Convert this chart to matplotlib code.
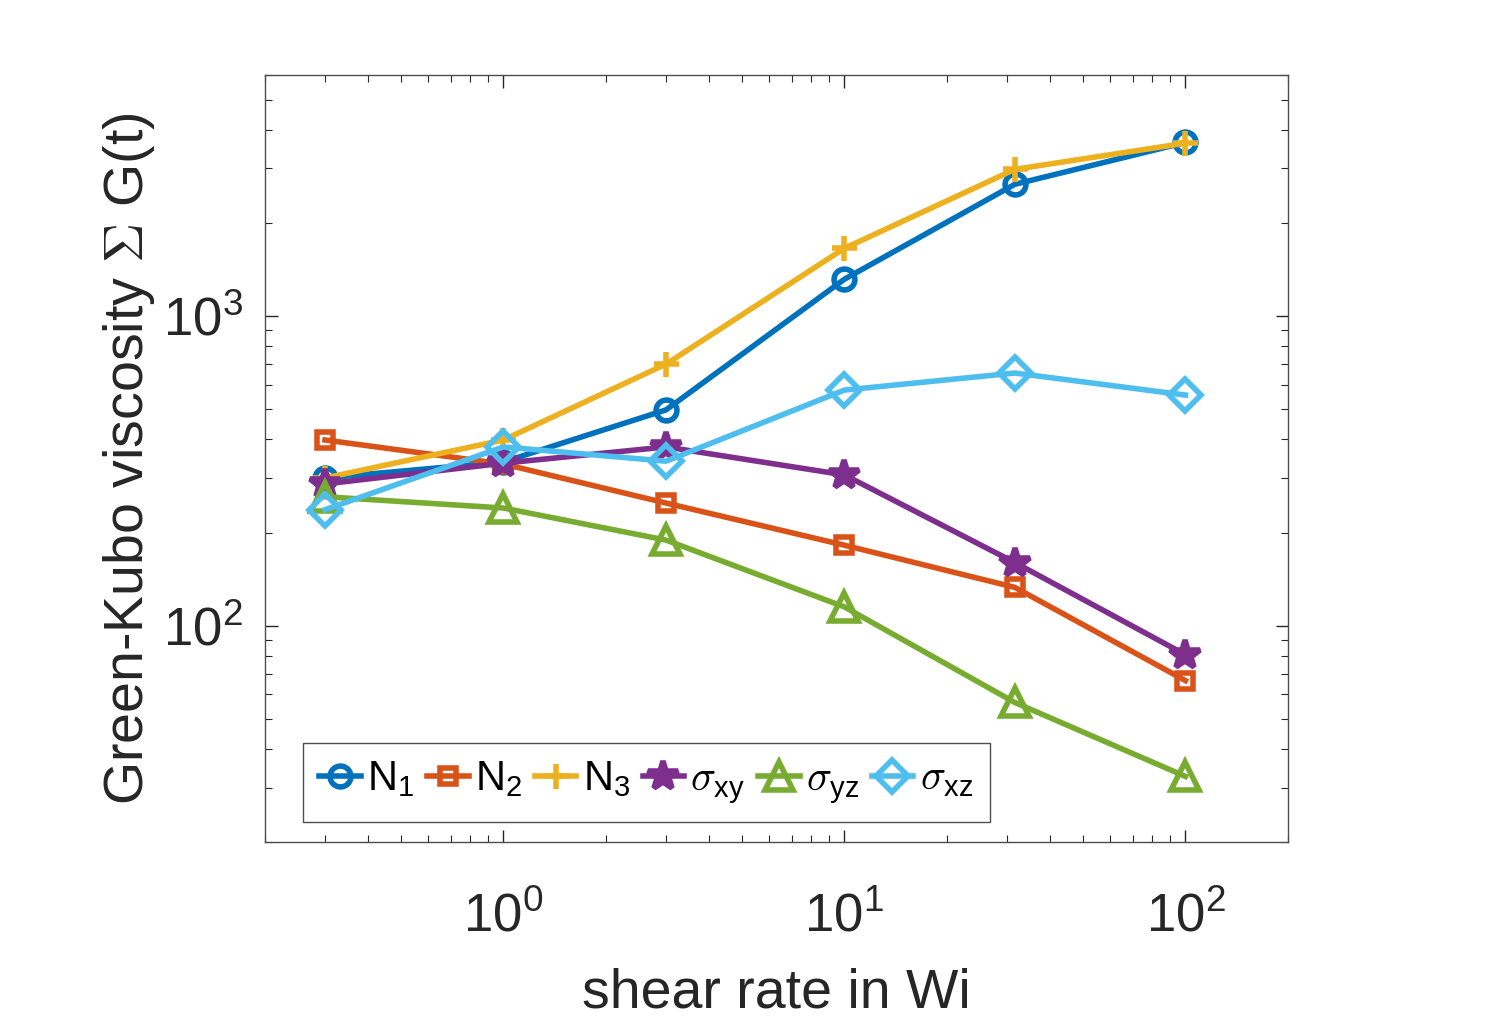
import numpy as np
import matplotlib
matplotlib.use("Agg")
import matplotlib.pyplot as plt

plt.rcParams['font.family'] = ['Liberation Sans', 'DejaVu Sans']
plt.rcParams['mathtext.fontset'] = 'cm'

wi = [0.3, 1, 3, 10, 31.6, 100]
n1 = [300, 338, 498, 1316, 2666, 3640]
n2 = [398, 333, 249, 182, 133, 66.5]
n3 = [300, 398, 700, 1656, 2980, 3620]
s_xy = [287, 335, 378, 307, 160, 80.6]
s_yz = [261, 240, 189, 115, 56.5, 32.6]
s_xz = [237, 378, 340, 577, 655, 556]

series = [n1, n2, n3, s_xy, s_yz, s_xz]
labels = [r'$\mathregular{N_1}$', r'$\mathregular{N_2}$', r'$\mathregular{N_3}$',
          r'$\sigma_{\mathregular{xy}}$', r'$\sigma_{\mathregular{yz}}$', r'$\sigma_{\mathregular{xz}}$']
colors = ['#0072BD', '#D95319', '#EDB120', '#7E2F8E', '#77AC30', '#4DBEEE']
markers = ['o', 's', '+', '*', '^', 'D']
msizes = [15, 12, 18, 22, 20, 16]

fig = plt.figure(figsize=(15.03, 10.17), dpi=100)
ax = fig.add_axes([0.1763, 0.172, 0.857 - 0.1763, 0.926 - 0.172])

for y, lab, c, m, ms in zip(series, labels, colors, markers, msizes):
    face = c if m == '*' else 'none'
    ax.plot(wi, y, color=c, lw=4, marker=m, ms=ms, mew=4, mfc=face, mec=c, label=lab)

ax.set_xscale('log')
ax.set_yscale('log')
ax.set_xlim(0.2, 200)
ax.set_ylim(20, 6000)

dark = '#262626'
for s in ax.spines.values():
    s.set_color('#4d4d4d')
    s.set_linewidth(1)
ax.tick_params(which='both', direction='in', top=True, right=True, colors=dark,
               labelsize=38)
ax.tick_params(axis='x', pad=36)
ax.tick_params(axis='y', pad=16)
ax.tick_params(which='major', length=9, width=1)
ax.tick_params(which='minor', length=5, width=0.8)

ax.set_xlabel('shear rate in Wi', fontsize=40, color=dark, labelpad=18)
ax.set_ylabel(r'Green-Kubo viscosity $\Sigma$ G(t)', fontsize=40, color=dark, labelpad=4)

leg = ax.legend(ncol=6, loc='lower left', bbox_to_anchor=(0.037, 0.026), borderaxespad=0,
                fontsize=30, handlelength=1.0, handletextpad=0.15, columnspacing=0.3,
                borderpad=0.4, fancybox=False, framealpha=1, edgecolor='#4d4d4d')
leg.get_frame().set_linewidth(1)

fig.savefig('out.png', dpi=100)
